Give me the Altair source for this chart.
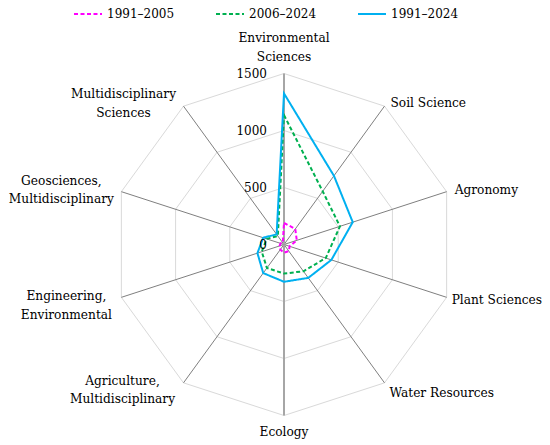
import altair as alt
import pandas as pd

categories = [
    "Environmental Sciences", "Soil Science", "Agronomy", "Plant Sciences",
    "Water Resources", "Ecology", "Agriculture, Multidisciplinary",
    "Engineering, Environmental", "Geosciences, Multidisciplinary",
    "Multidisciplinary Sciences",
]
category_text = [
    "Environmental\nSciences", "Soil Science", "Agronomy", "Plant Sciences",
    "Water Resources", "Ecology", "Agriculture,\nMultidisciplinary",
    "Engineering,\nEnvironmental", "Geosciences,\nMultidisciplinary",
    "Multidisciplinary\nSciences",
]
series_names = ["1991–2005", "2006–2024", "1991–2024"]
v_1991_2005 = [190, 168, 118, 52, 72, 72, 55, 40, 32, 18]
v_2006_2024 = [1135, 577, 516, 385, 290, 255, 255, 205, 160, 92]
v_1991_2024 = [1325, 745, 634, 437, 362, 327, 310, 245, 192, 110]
tick_values = [0, 500, 1000, 1500]
ring_levels = [500, 1000, 1500]
colors = ["#FF00FF", "#00B050", "#00B0F0"]
dashes = [[4, 2.5], [4, 2.5], [1, 0]]

N = len(categories)
W, H = 534, 437
CX, CY = 276.0, 236.5          # centre in plot pixels
K = 171.0 / 1500.0             # pixels per unit
xs = alt.Scale(domain=[-CX / K, (W - CX) / K], nice=False, zero=False)
ys = alt.Scale(domain=[-(H - CY) / K, CY / K], nice=False, zero=False)
FONT = "DejaVu Serif"

rows = []
for name, vals in zip(series_names, [v_1991_2005, v_2006_2024, v_1991_2024]):
    for i, (c, v) in enumerate(zip(categories, vals)):
        rows.append({"series": name, "category": c, "idx": i, "value": v})
df = pd.DataFrame(rows)

ring_df = pd.DataFrame([{"level": l, "idx": i, "value": l} for l in ring_levels for i in range(N)])
spoke_df = pd.DataFrame({"idx": list(range(N)), "value": [max(tick_values)] * N, "category": categories})
label_df = pd.DataFrame({"idx": list(range(N)), "value": [max(tick_values)] * N, "text": category_text})
tick_df = pd.DataFrame({"value": tick_values, "text": [str(t) for t in tick_values]})


def polar(ch):
    return ch.transform_calculate(
        px="datum.value * sin(datum.idx * 2 * PI / %d)" % N,
        py="datum.value * cos(datum.idx * 2 * PI / %d)" % N,
        zero="0",
    )


X = alt.X("px:Q", scale=xs, axis=None)
Y = alt.Y("py:Q", scale=ys, axis=None)
X0 = alt.X("zero:Q", scale=xs, axis=None)
Y0 = alt.Y("zero:Q", scale=ys, axis=None)

rings = polar(alt.Chart(ring_df)).mark_line(
    interpolate="linear-closed", stroke="#d9d9d9", strokeWidth=1
).encode(x=X, y=Y, detail="level:N", order="idx:Q")

spokes = polar(alt.Chart(spoke_df)).transform_filter("datum.idx % 5 != 0").mark_rule(
    stroke="#7f7f7f", strokeWidth=1
).encode(x=X0, y=Y0, x2="px:Q", y2="py:Q")

vspokes = polar(alt.Chart(spoke_df)).transform_filter("datum.idx % 5 == 0").mark_rule(
    stroke="#a6a6a6", strokeWidth=2
).encode(x=X0, y=Y0, x2="px:Q", y2="py:Q")

leg = alt.Legend(
    orient="none", legendX=65, legendY=-9, direction="horizontal", title=None,
    symbolType="stroke", symbolSize=784, symbolStrokeWidth=2,
    labelFont=FONT, labelFontSize=12, labelColor="black",
    columnPadding=37, labelOffset=4, padding=0,
)

lines = polar(alt.Chart(df)).mark_line(interpolate="linear-closed", strokeWidth=2).encode(
    x=X, y=Y, order="idx:Q",
    color=alt.Color("series:N", scale=alt.Scale(domain=series_names, range=colors), legend=leg),
    strokeDash=alt.StrokeDash("series:N", scale=alt.Scale(domain=series_names, range=dashes), legend=leg),
)

ticks = alt.Chart(tick_df).transform_calculate(zero="0").mark_text(
    align="right", baseline="middle", dx=-17, font=FONT, fontSize=12, color="black"
).encode(x=X0, y=alt.Y("value:Q", scale=ys, axis=None), text="text:N")

# per-label placement (align, dx, dy of first line)
placements = [
    ("center", 0, -35.5), ("left", 6, -3), ("left", 8, -2), ("left", 5, 3),
    ("left", 5, 10), ("center", 0, 16), ("center", -61, -2), ("center", -55, -1),
    ("center", -60, -11), ("center", -60, -12),
]
label_layers = []
for i, (al, dx, dy) in enumerate(placements):
    label_layers.append(
        polar(alt.Chart(label_df)).transform_filter("datum.idx == %d" % i).mark_text(
            align=al, baseline="middle", dx=dx, dy=dy, font=FONT, fontSize=12.2,
            color="black", lineBreak="\n", lineHeight=18.5,
        ).encode(x=X, y=Y, text="text:N")
    )

chart = alt.layer(rings, spokes, vspokes, lines, ticks, *label_layers).properties(
    width=W, height=H, padding=0, autosize=alt.AutoSizeParams(type="none")
).configure_view(stroke=None)

chart.save("out.html", embed_options={"renderer": "svg", "actions": False})
